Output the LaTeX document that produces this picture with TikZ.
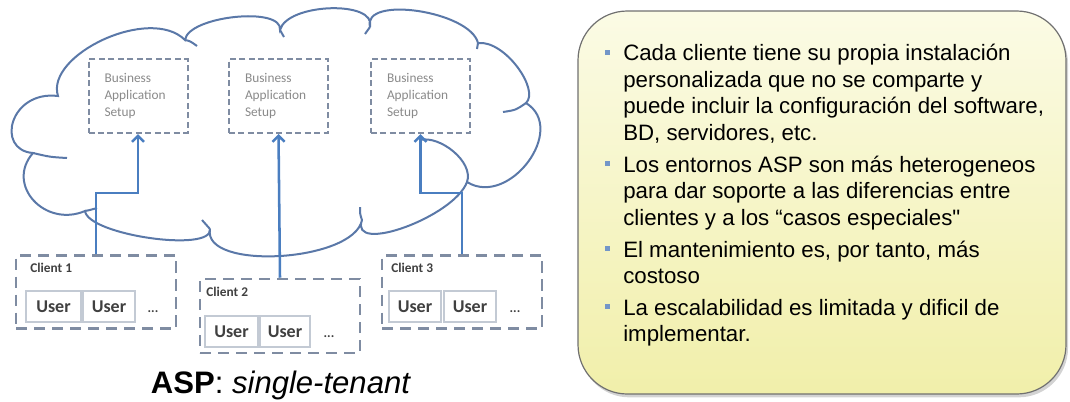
\documentclass[tikz,border=0pt]{standalone}
\usepackage{fontspec}
\setmainfont{Liberation Sans}
\newfontfamily\carl{Carlito}
\usetikzlibrary{arrows.meta,shadows}
\newdimen\PX \PX=0.75pt
\definecolor{cloudc}{HTML}{5A78A8}
\definecolor{arrc}{HTML}{4A7EC0}
\definecolor{dashc}{HTML}{7F8CA2}
\definecolor{userc}{HTML}{C3CAD4}
\definecolor{bizc}{HTML}{8A8A8A}
\definecolor{lblc}{HTML}{404040}
\definecolor{bulc}{HTML}{7396C8}
\definecolor{paneltop}{HTML}{FBFBE5}
\definecolor{panelbot}{HTML}{F1EFAA}
\definecolor{panelbd}{HTML}{707070}
\begin{document}
\begin{tikzpicture}[x=0.75pt,y=-0.75pt,
  cloudline/.style={draw=cloudc,line width=1.5pt},
  arr/.style={draw=arrc,line width=1.9pt,-{Straight Barb[length=4.5pt,width=9pt]}},
  bizbox/.style={draw=dashc,line width=1.5pt,dash pattern=on 4.5pt off 2.6pt,fill=white,
    minimum width=99\PX,minimum height=74\PX,text width=67\PX,inner xsep=16\PX,inner ysep=0pt,
    align=left,font=\carl\fontsize{10}{12.4}\selectfont,text=bizc},
  clientbox/.style={draw=dashc,line width=1.9pt,dash pattern=on 8.5pt off 5pt,
    minimum width=160\PX,minimum height=73\PX,inner sep=0pt},
  clientlbl/.style={anchor=base west,font=\carl\bfseries\fontsize{10}{12}\selectfont,text=lblc,inner sep=0pt},
  userbox/.style={draw=userc,line width=1pt,fill=white,minimum height=31\PX,inner sep=0pt,
    font=\carl\bfseries\fontsize{13.5}{16}\selectfont,text=lblc},
  dots/.style={font=\carl\bfseries\fontsize{10}{12}\selectfont,text=lblc,anchor=base,inner sep=0pt},
  panel/.style={draw=panelbd,line width=0.9pt,rounded corners=37pt,minimum width=488\PX,minimum height=383\PX,
    top color=paneltop,bottom color=panelbot,
    drop shadow={shadow xshift=1.5pt,shadow yshift=-2.5pt,opacity=0.35}},
  bullet/.style={fill=bulc,minimum size=5\PX,inner sep=0pt},
  para/.style={anchor=base west,inner sep=0pt,font=\fontsize{16.7}{19.875}\selectfont},
]
\useasboundingbox (0,0) rectangle (1070,401);
% ---------- cloud ----------
\draw[cloudline] (58,96) .. controls (45,55) and (150,5) .. (185,40)
 .. controls (188,16) and (283,6) .. (280,30)
 .. controls (287,3) and (377,0) .. (370,27)
 .. controls (362,-5) and (470,11) .. (478,43)
 .. controls (505,40) and (540,90) .. (526,103)
 .. controls (568,129) and (509,208) .. (467,182)
 .. controls (454,217) and (349,255) .. (362,220)
 .. controls (354,262) and (202,271) .. (210,229)
 .. controls (213,253) and (88,235) .. (85,211)
 .. controls (45,228) and (5,185) .. (33,153)
 .. controls (-5,150) and (10,90) .. cycle;
% inner hooks
\draw[cloudline] (185,40) .. controls (190,41) .. (197,46);
\draw[cloudline] (280,30) .. controls (282,33) .. (284,37);
\draw[cloudline] (370,27) .. controls (367,30) .. (365,34);
\draw[cloudline] (478,43) .. controls (478,46) .. (477,49);
\draw[cloudline] (526,103) .. controls (516,110) .. (503,112);
\draw[cloudline] (467,182) .. controls (474,162) and (440,135) .. (420,140);
\draw[cloudline] (362,220) .. controls (360,214) .. (360,207);
\draw[cloudline] (210,229) .. controls (206,224) .. (202,220);
\draw[cloudline] (85,211) .. controls (90,210) .. (97,208);
\draw[cloudline] (33,153) .. controls (50,157) .. (67,158);
% ---------- business boxes ----------
\node[bizbox] (b1) at (138,96) {Business\\Application\\Setup};
\node[bizbox] (b2) at (278.5,96) {Business\\Application\\Setup};
\node[bizbox] (b3) at (420.5,96) {Business\\Application\\Setup};
% ---------- clients ----------
\node[clientbox] (c1) at (96,292) {};
\node[clientbox,minimum height=74\PX] (c2) at (280,316) {};
\node[clientbox] (c3) at (462,292) {};
\node[clientlbl] (l1) at (30,272) {Client 1};
\node[clientlbl] (l2) at (206,296) {Client 2};
\node[clientlbl] (l3) at (391,272) {Client 3};
\node[userbox,minimum width=55\PX] (u11) at (53.5,306.5) {User};
\node[userbox,minimum width=52\PX] (u12) at (109,306.5) {User};
\node[dots] (d1) at (153,312) {...};
\node[userbox,minimum width=53\PX] (u21) at (231.5,331.5) {User};
\node[userbox,minimum width=50\PX] (u22) at (285,331.5) {User};
\node[dots] (d2) at (329,337) {...};
\node[userbox,minimum width=52\PX] (u31) at (415,306.5) {User};
\node[userbox,minimum width=52\PX] (u32) at (470,306.5) {User};
\node[dots] (d3) at (515,312) {...};
% ---------- arrows ----------
\draw[arr] (c1.north) -- (c1.north |- 0,193) -- (b1.south |- 0,193) -- (b1.south);
\draw[arr] (c2.north) -- (b2.south);
\draw[arr] (c3.north) -- (c3.north |- 0,193) -- (b3.south |- 0,193) -- (b3.south);
% ---------- caption ----------
\node[anchor=base,inner sep=0pt,font=\fontsize{23.3}{28}\selectfont] (cap) at (281,393)
  {\textbf{ASP}: \textit{single-tenant}};
% ---------- right panel ----------
\node[panel] (pn) at (822,202.5) {};
\node[bullet] (q1) at (607.5,52) {};
\node[bullet] (q2) at (607.5,163.5) {};
\node[bullet] (q3) at (607.5,248.5) {};
\node[bullet] (q4) at (607.5,306.5) {};
\node[para] (p1) at (623,60.5) {\parbox[t]{450\PX}{Cada cliente tiene su propia instalación\\personalizada que no se comparte y\\puede incluir la configuración del software,\\BD, servidores, etc.}};
\node[para] (p2) at (623,172) {\parbox[t]{450\PX}{Los entornos ASP son más heterogeneos\\para dar soporte a las diferencias entre\\clientes y a los “casos especiales\textquotedbl}};
\node[para] (p3) at (623,257) {\parbox[t]{450\PX}{El mantenimiento es, por tanto, más\\costoso}};
\node[para] (p4) at (623,315) {\parbox[t]{450\PX}{La escalabilidad es limitada y dificil de\\implementar.}};
\end{tikzpicture}
\end{document}
